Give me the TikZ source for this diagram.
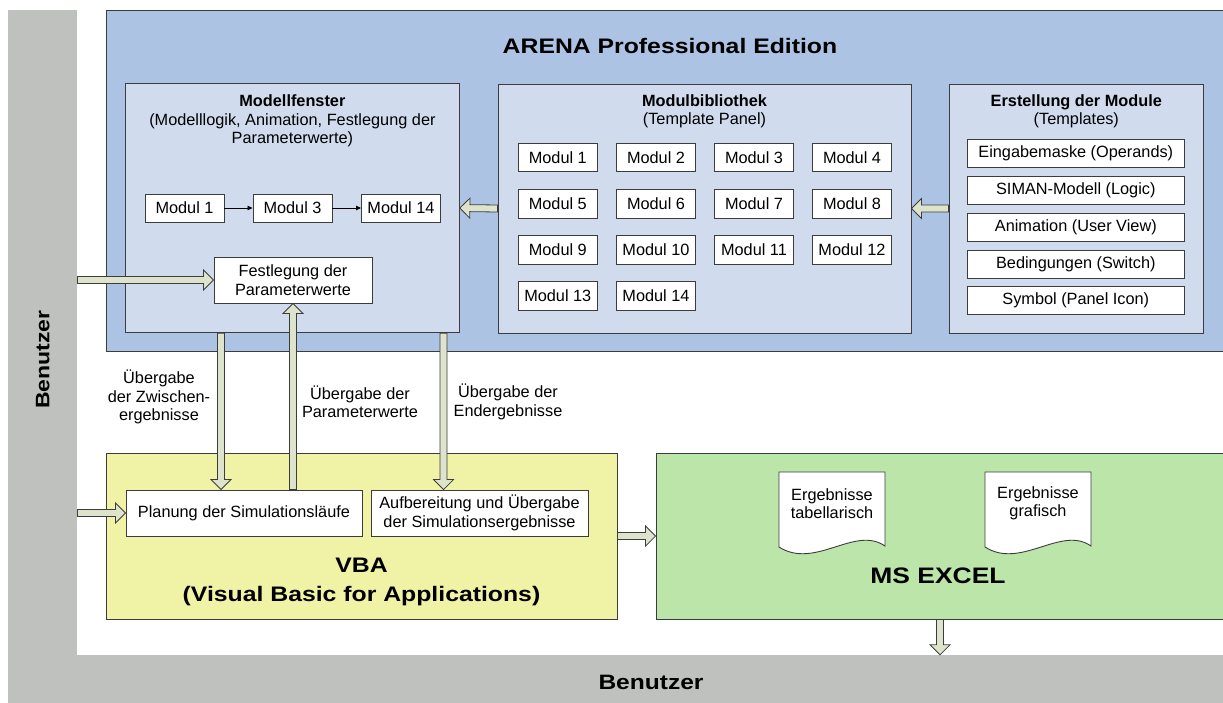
\documentclass[tikz,border=0pt]{standalone}
\usepackage{fontspec}
\setmainfont{Liberation Sans}
\newfontfamily\tfont[FakeStretch=1.18]{Liberation Sans}
\usetikzlibrary{calc,arrows.meta}
\definecolor{usergray}{RGB}{190,193,189}
\definecolor{arenablue}{RGB}{173,195,227}
\definecolor{panelblue}{RGB}{208,220,238}
\definecolor{vbayellow}{RGB}{240,243,166}
\definecolor{excelgreen}{RGB}{188,229,170}
\definecolor{arrowfill}{RGB}{222,227,203}
\definecolor{edge}{RGB}{60,60,60}
\tikzset{
  plainbox/.style={draw=edge, line width=0.9pt, inner sep=0pt, align=center, font=\fontsize{16.3}{18.5}\selectfont},
  whitebox/.style={plainbox, fill=white},
  modbox/.style={whitebox, minimum width=79.5pt, minimum height=28.5pt},
  itembox/.style={whitebox, minimum width=216.5pt, minimum height=28pt},
  panel/.style={plainbox, fill=panelblue},
  lbl/.style={align=center, inner sep=0pt, font=\fontsize{16.3}{18.5}\selectfont},
  bigtitle/.style={align=center, inner sep=0pt, font=\tfont\bfseries\fontsize{21}{29}\selectfont},
  fatarrowstyle/.style={draw=edge, line width=0.8pt, fill=arrowfill, line join=miter},
  thinarrow/.style={draw=black, line width=0.8pt, -{Triangle[length=5pt,width=4.5pt]}},
  userbar/.style={fill=usergray, inner sep=0pt},
  docstyle/.style={draw=edge, line width=0.9pt, fill=white},
}
\newcommand{\fatarrow}[2]{%
  \path (#1) coordinate (faS) (#2) coordinate (faE);
  \path ($(faE)!10pt!(faS)$) coordinate (faH);
  \draw[fatarrowstyle] ($(faS)!3.5pt!90:(faE)$) -- ($(faH)!3.5pt!90:(faE)$) -- ($(faH)!10pt!90:(faE)$) -- (faE) -- ($(faH)!10pt!-90:(faE)$) -- ($(faH)!3.5pt!-90:(faE)$) -- ($(faS)!3.5pt!-90:(faE)$) -- cycle;}
\newcommand{\docshape}[1]{%
  \begin{scope}[shift={#1}]
    \draw[docstyle] (0,0) -- (106,0) -- (106,74) .. controls (76,53) and (36,98) .. (0,75) -- cycle;
  \end{scope}}
\begin{document}
\begin{tikzpicture}[x=1pt,y=-1pt]
\useasboundingbox (0,0) rectangle (1223,702);
% user bars
\node[userbar, minimum width=69.3pt, minimum height=700.5pt] (userL) at (42.65,359.75) {\rotatebox{90}{\tfont\bfseries\fontsize{19.5}{22}\selectfont Benutzer}};
\node[userbar, minimum width=1162pt, minimum height=54pt, font=\tfont\bfseries\fontsize{20.8}{24}\selectfont] (userB) at (651,682) {Benutzer};
% ARENA
\node[draw=edge, line width=0.9pt, fill=arenablue, minimum width=1122pt, minimum height=341pt, inner sep=0pt] (arena) at (667,180.5) {};
\node[bigtitle] (arenatitle) at (670,46) {ARENA Professional Edition};
% Modellfenster
\node[panel, minimum width=334pt, minimum height=249.4pt] (modell) at (292.4,208) {};
\node[lbl] (modelltitle) at (292.4,121) {\textbf{Modellfenster}\\(Modelllogik, Animation, Festlegung der\\Parameterwerte)};
\node[whitebox, minimum width=79pt, minimum height=28pt] (mm1) at (184.5,208) {Modul 1};
\node[whitebox, minimum width=79pt, minimum height=28pt] (mm3) at (292.5,208) {Modul 3};
\node[whitebox, minimum width=79pt, minimum height=28pt] (mm14) at (401,208) {Modul 14};
\draw[thinarrow] (mm1) -- (mm3);
\draw[thinarrow] (mm3) -- (mm14);
\node[whitebox, minimum width=158pt, minimum height=46pt] (fest) at (293,280) {Festlegung der\\Parameterwerte};
% Modulbibliothek
\node[panel, minimum width=413pt, minimum height=249pt] (bib) at (704.5,208.5) {};
\node[lbl] (bibtitle) at (704.5,111.5) {\textbf{Modulbibliothek}\\(Template Panel)};
\node[modbox] (b1) at (557.8,157.5) {Modul 1};
\node[modbox] (b2) at (656,157.5) {Modul 2};
\node[modbox] (b3) at (754,157.5) {Modul 3};
\node[modbox] (b4) at (852,157.5) {Modul 4};
\node[modbox] (b5) at (557.8,203.7) {Modul 5};
\node[modbox] (b6) at (656,203.7) {Modul 6};
\node[modbox] (b7) at (754,203.7) {Modul 7};
\node[modbox] (b8) at (852,203.7) {Modul 8};
\node[modbox] (b9) at (557.8,249.9) {Modul 9};
\node[modbox] (b10) at (656,249.9) {Modul 10};
\node[modbox] (b11) at (754,249.9) {Modul 11};
\node[modbox] (b12) at (852,249.9) {Modul 12};
\node[modbox] (b13) at (557.8,296.1) {Modul 13};
\node[modbox] (b14) at (656,296.1) {Modul 14};
% Erstellung
\node[panel, minimum width=254.6pt, minimum height=249pt] (erst) at (1076.3,208.5) {};
\node[lbl] (ersttitle) at (1076.3,111.5) {\textbf{Erstellung der Module}\\(Templates)};
\node[itembox] (e1) at (1075.8,153) {Eingabemaske (Operands)};
\node[itembox] (e2) at (1075.8,190) {SIMAN-Modell (Logic)};
\node[itembox] (e3) at (1075.8,227) {Animation (User View)};
\node[itembox] (e4) at (1075.8,264) {Bedingungen (Switch)};
\node[itembox] (e5) at (1075.8,300.5) {Symbol (Panel Icon)};
% VBA
\node[plainbox, fill=vbayellow, minimum width=511pt, minimum height=166pt] (vba) at (361.5,536) {};
\node[whitebox, minimum width=236pt, minimum height=46pt] (plan) at (244,513) {Planung der Simulationsläufe};
\node[whitebox, minimum width=217pt, minimum height=46pt] (auf) at (479.5,513) {Aufbereitung und Übergabe\\der Simulationsergebnisse};
\node[bigtitle] (vbatitle) at (361.5,582) {VBA\\(Visual Basic for Applications)};
% Excel
\node[plainbox, fill=excelgreen, minimum width=574pt, minimum height=166pt] (excel) at (943,536) {};
\docshape{(779,472)}
\docshape{(985,472)}
\node[lbl] (doc1) at (832,503.5) {Ergebnisse\\tabellarisch};
\node[lbl] (doc2) at (1038,503.5) {Ergebnisse\\grafisch};
\node[bigtitle, font=\tfont\bfseries\fontsize{22.4}{26}\selectfont] (exceltitle) at (938,576) {MS EXCEL};
% labels
\node[lbl] (lab1) at (159,397) {Übergabe\\der Zwischen-\\ergebnisse};
\node[lbl] (lab2) at (360,402) {Übergabe der\\Parameterwerte};
\node[lbl] (lab3) at (508,402) {Übergabe der\\Endergebnisse};
% helper coordinates
\coordinate (cz) at (221,0);
\coordinate (ce) at (443.5,0);
\coordinate (cx) at (940,0);
% fat arrows
\fatarrow{erst.west}{bib.east}
\fatarrow{bib.west}{modell.east}
\fatarrow{userL.east |- fest.west}{fest.west}
\fatarrow{cz |- modell.south}{cz |- plan.north}
\fatarrow{fest.south |- plan.north}{fest.south}
\fatarrow{ce |- modell.south}{ce |- auf.north}
\fatarrow{userL.east |- plan.west}{plan.west}
\fatarrow{vba.east}{vba.east -| excel.west}
\fatarrow{cx |- excel.south}{cx |- userB.north}
\end{tikzpicture}
\end{document}
